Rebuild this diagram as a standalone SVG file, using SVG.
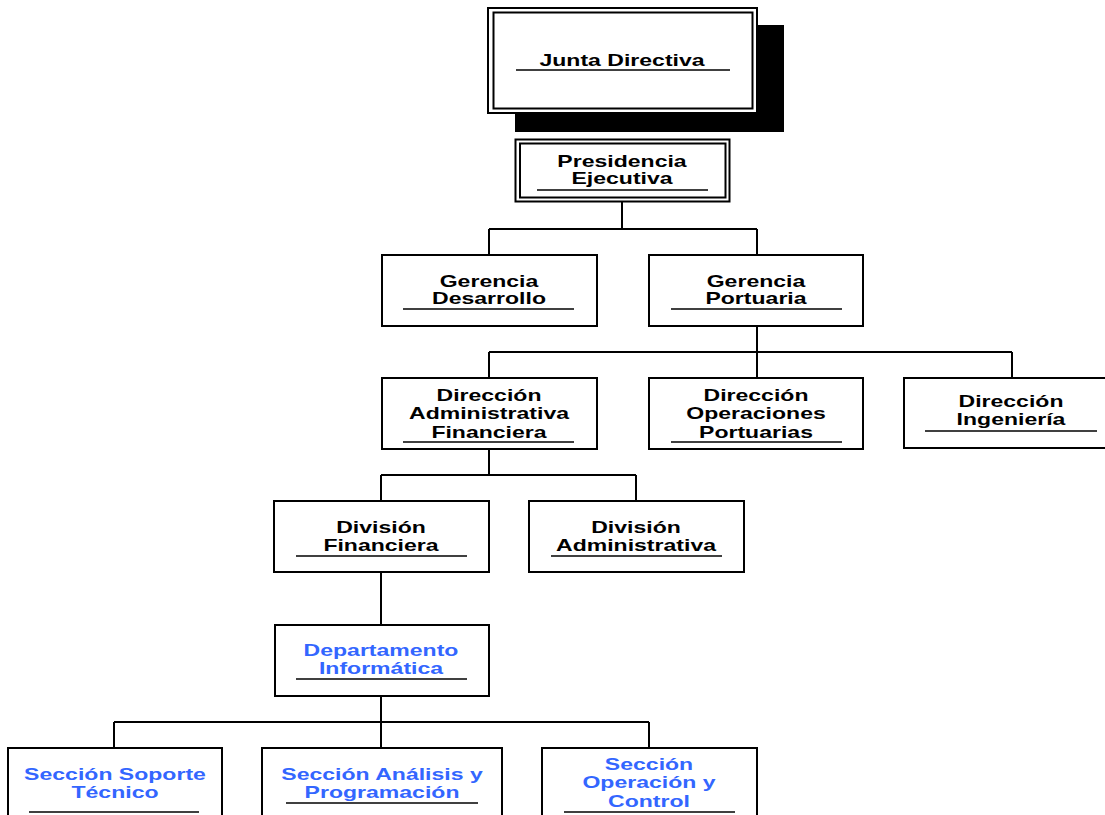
<svg xmlns="http://www.w3.org/2000/svg" width="1105" height="815" viewBox="0 0 1105 815">
  <style>
    .box { fill: #ffffff; stroke: #000000; stroke-width: 2; }
    .rule { stroke: #000000; stroke-width: 1.6; }
    .wire { fill: none; stroke: #000000; stroke-width: 2; }
    .lbl { font-family: "Liberation Sans", Arial, sans-serif; font-weight: bold; font-size: 16px; text-anchor: middle; fill: #000000; }
    .blue { fill: #3366ff; }
  </style>
  <rect width="1105" height="815" fill="#ffffff"/>

  <!-- connectors -->
  <g id="connectors" class="wire">
    <path d="M622,202 V229 M489,229 H757 M489,229 V255 M757,229 V255"/>
    <path d="M757,326 V352 M489,352 H1012 M489,352 V378 M757,352 V378 M1012,352 V378"/>
    <path d="M489,449 V475 M381,475 H636 M381,475 V501 M636,475 V501"/>
    <path d="M381,572 V625"/>
    <path d="M381,696 V722 M114,722 H649 M114,722 V748 M381,722 V748 M649,722 V748"/>
  </g>

  <g id="junta-directiva">
    <rect x="515" y="25" width="269" height="107" fill="#000000"/>
    <rect class="box" x="488" y="8" width="269" height="105"/>
    <rect class="box" x="493.5" y="12.5" width="259" height="96" fill="none"/>
    <g transform="translate(622 0) scale(1.44 1)">
      <text class="lbl" x="0" y="66">Junta Directiva</text>
    </g>
    <line class="rule" x1="516" y1="70" x2="730" y2="70"/>
  </g>

  <g id="presidencia-ejecutiva">
    <rect class="box" x="515.5" y="139.5" width="214" height="62"/>
    <rect class="box" x="520" y="143.5" width="205.5" height="54" fill="none"/>
    <g transform="translate(622 0) scale(1.44 1)">
      <text class="lbl" x="0" y="167">Presidencia</text>
      <text class="lbl" x="0" y="184.5">Ejecutiva</text>
    </g>
    <line class="rule" x1="537" y1="190" x2="708" y2="190"/>
  </g>

  <g id="gerencia-desarrollo">
    <rect class="box" x="382" y="255" width="215" height="71"/>
    <g transform="translate(489 0) scale(1.44 1)">
      <text class="lbl" x="0" y="287">Gerencia</text>
      <text class="lbl" x="0" y="304">Desarrollo</text>
    </g>
    <line class="rule" x1="403" y1="309" x2="574" y2="309"/>
  </g>

  <g id="gerencia-portuaria">
    <rect class="box" x="649" y="255" width="214" height="71"/>
    <g transform="translate(756 0) scale(1.44 1)">
      <text class="lbl" x="0" y="287">Gerencia</text>
      <text class="lbl" x="0" y="304">Portuaria</text>
    </g>
    <line class="rule" x1="671" y1="309" x2="842" y2="309"/>
  </g>

  <g id="direccion-administrativa-financiera">
    <rect class="box" x="382" y="378" width="215" height="71"/>
    <g transform="translate(489 0) scale(1.44 1)">
      <text class="lbl" x="0" y="401">Dirección</text>
      <text class="lbl" x="0" y="419.5">Administrativa</text>
      <text class="lbl" x="0" y="438">Financiera</text>
    </g>
    <line class="rule" x1="403" y1="442" x2="574" y2="442"/>
  </g>

  <g id="direccion-operaciones-portuarias">
    <rect class="box" x="649" y="378" width="214" height="71"/>
    <g transform="translate(756 0) scale(1.44 1)">
      <text class="lbl" x="0" y="401">Dirección</text>
      <text class="lbl" x="0" y="419.5">Operaciones</text>
      <text class="lbl" x="0" y="438">Portuarias</text>
    </g>
    <line class="rule" x1="671" y1="442" x2="842" y2="442"/>
  </g>

  <g id="direccion-ingenieria">
    <rect class="box" x="904" y="378" width="215" height="70"/>
    <g transform="translate(1011 0) scale(1.44 1)">
      <text class="lbl" x="0" y="407">Dirección</text>
      <text class="lbl" x="0" y="425">Ingeniería</text>
    </g>
    <line class="rule" x1="925" y1="431" x2="1097" y2="431"/>
  </g>

  <g id="division-financiera">
    <rect class="box" x="274" y="501" width="215" height="71"/>
    <g transform="translate(381 0) scale(1.44 1)">
      <text class="lbl" x="0" y="533">División</text>
      <text class="lbl" x="0" y="551">Financiera</text>
    </g>
    <line class="rule" x1="296" y1="556" x2="467" y2="556"/>
  </g>

  <g id="division-administrativa">
    <rect class="box" x="529" y="501" width="215" height="71"/>
    <g transform="translate(636 0) scale(1.44 1)">
      <text class="lbl" x="0" y="533">División</text>
      <text class="lbl" x="0" y="551">Administrativa</text>
    </g>
    <line class="rule" x1="551" y1="556" x2="722" y2="556"/>
  </g>

  <g id="departamento-informatica">
    <rect class="box" x="275" y="625" width="214" height="71"/>
    <g transform="translate(381 0) scale(1.44 1)">
      <text class="lbl blue" x="0" y="656">Departamento</text>
      <text class="lbl blue" x="0" y="674.5">Informática</text>
    </g>
    <line class="rule" x1="296" y1="679" x2="467" y2="679"/>
  </g>

  <g id="seccion-soporte-tecnico">
    <rect class="box" x="8" y="748" width="214" height="90"/>
    <g transform="translate(115 0) scale(1.44 1)">
      <text class="lbl blue" x="0" y="780">Sección Soporte</text>
      <text class="lbl blue" x="0" y="798">Técnico</text>
    </g>
    <line class="rule" x1="29" y1="812" x2="199" y2="812"/>
  </g>

  <g id="seccion-analisis-programacion">
    <rect class="box" x="262" y="748" width="240" height="90"/>
    <g transform="translate(382 0) scale(1.44 1)">
      <text class="lbl blue" x="0" y="780">Sección Análisis y</text>
      <text class="lbl blue" x="0" y="798">Programación</text>
    </g>
    <line class="rule" x1="286" y1="803" x2="478" y2="803"/>
  </g>

  <g id="seccion-operacion-control">
    <rect class="box" x="542" y="748" width="215" height="90"/>
    <g transform="translate(649 0) scale(1.44 1)">
      <text class="lbl blue" x="0" y="770">Sección</text>
      <text class="lbl blue" x="0" y="788.5">Operación y</text>
      <text class="lbl blue" x="0" y="807">Control</text>
    </g>
    <line class="rule" x1="564" y1="812" x2="735" y2="812"/>
  </g>
</svg>
